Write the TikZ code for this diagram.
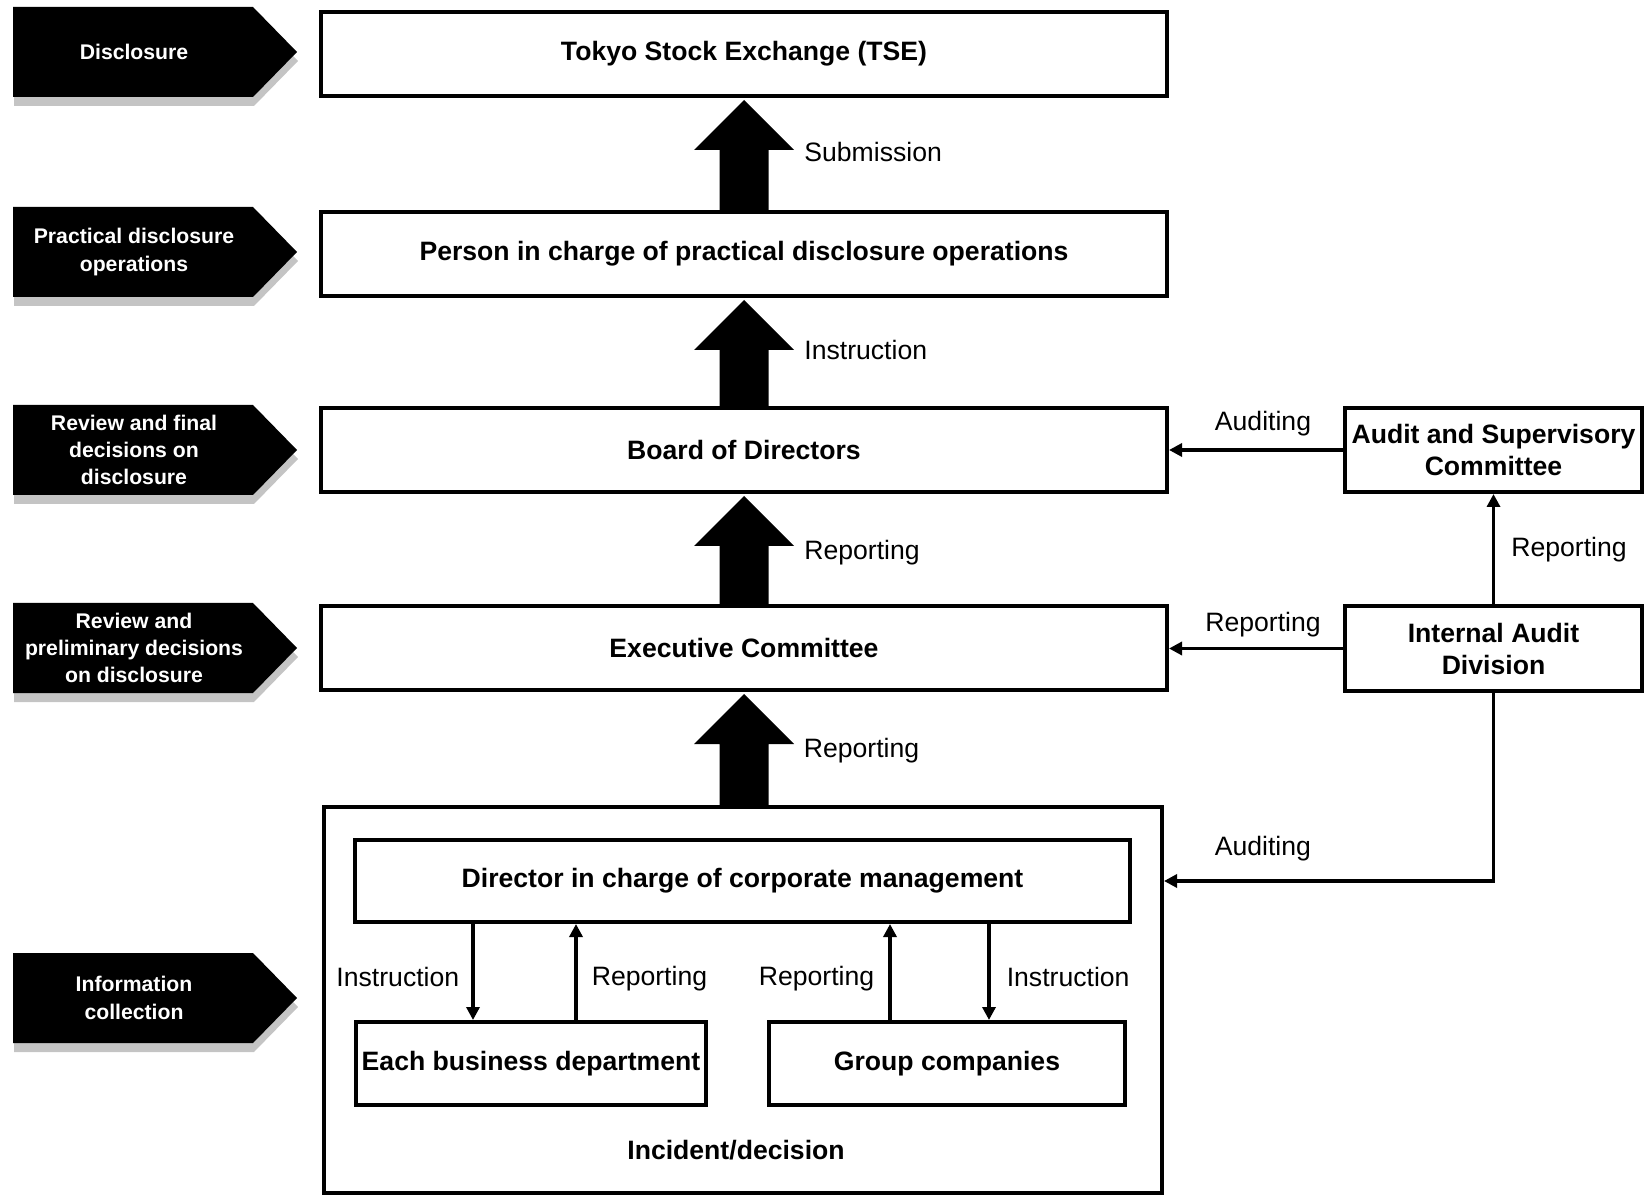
\documentclass[tikz,border=0pt]{standalone}
\usepackage{fontspec}
\setmainfont{Liberation Sans}
\usetikzlibrary{arrows.meta,calc,positioning}

\definecolor{tagshade}{RGB}{196,196,196}

\tikzset{
  box/.style={draw, line width=2pt, fill=white, align=center, inner sep=2pt,
    font=\bfseries\fontsize{13.3}{16}\selectfont},
  mainbox/.style={box, minimum width=423pt, minimum height=42pt},
  sidebox/.style={box, minimum width=148.5pt, minimum height=42pt},
  boldtxt/.style={font=\bfseries\fontsize{13.3}{16}\selectfont, inner sep=1pt},
  lbl/.style={font=\fontsize{13.3}{16}\selectfont, inner sep=1pt},
  conn/.style={line width=1.8pt, -{Triangle[length=6.5pt,width=6.5pt]}},
  tagtxt/.style={text=white, align=center, font=\bfseries\fontsize{10.6}{13.6}\selectfont},
}

% black pointer tag with grey shadow: name, centre y, text
\newcommand{\tagbox}[3]{%
  \fill[tagshade] (14,{#2-36}) -- (254,{#2-36}) -- (298,{#2+9}) -- (254,{#2+54}) -- (14,{#2+54}) -- cycle;
  \fill (13,{#2-45}) -- (253,{#2-45}) -- (297,#2) -- (253,{#2+45}) -- (13,{#2+45}) -- cycle;
  \node[tagtxt] (#1) at (134,#2) {#3};
}

% thick block arrow from lower node #1 up to upper node #2
\newcommand{\bigup}[2]{%
  \coordinate (tip) at ([yshift=-1pt]#2.south);
  \coordinate (base) at (#1.north -| tip);
  \fill ([xshift=-12.25pt]base) -- ([xshift=-12.25pt,yshift=-25pt]tip)
    -- ([xshift=-25pt,yshift=-25pt]tip) -- (tip) -- ([xshift=25pt,yshift=-25pt]tip)
    -- ([xshift=12.25pt,yshift=-25pt]tip) -- ([xshift=12.25pt]base) -- cycle;
}

\begin{document}
\begin{tikzpicture}[x=0.5pt, y=-0.5pt]
  \useasboundingbox (0,0) rectangle (1644,1197);

  % ── Left column: stage tags ──────────────────────────────────
  \tagbox{tdisc}{52}{Disclosure}
  \tagbox{tprac}{252}{Practical disclosure\\operations}
  \tagbox{tfinal}{450}{Review and final\\decisions on\\disclosure}
  \tagbox{tprelim}{648}{Review and\\preliminary decisions\\on disclosure}
  \tagbox{tinfo}{998}{Information\\collection}

  % ── Main column ──────────────────────────────────────────────
  \node[mainbox] (tse)    at (744,54)  {Tokyo Stock Exchange (TSE)};
  \node[mainbox] (person) at (744,254) {Person in charge of practical disclosure operations};
  \node[mainbox] (board)  at (744,450) {Board of Directors};
  \node[mainbox] (exec)   at (744,648) {Executive Committee};

  % ── Information collection frame ─────────────────────────────
  \node[draw, line width=2pt, minimum width=419pt, minimum height=193pt] (outer) at (743,1000) {};
  \node[box, minimum width=387.5pt, minimum height=41pt] (director) at (742.5,881)
    {Director in charge of corporate management};
  \node[box, minimum width=175pt, minimum height=41.5pt, inner sep=0pt] (dept) at (531,1063.5)
    {Each business department};
  \node[box, minimum width=178pt, minimum height=41.5pt] (group) at (947,1063.5)
    {Group companies};
  \node[boldtxt] (incident) at (736,1150) {Incident/decision};

  % ── Right column ─────────────────────────────────────────────
  \node[sidebox] (audit)    at (1493.5,450) {Audit and Supervisory\\Committee};
  \node[sidebox] (internal) at (1493.5,648.5) {Internal Audit\\Division};

  % ── Block arrows up the main column ──────────────────────────
  \bigup{person}{tse}
  \bigup{board}{person}
  \bigup{exec}{board}
  \bigup{outer}{exec}

  \node[lbl, anchor=west] (lsub)   at ([xshift=29pt,yshift=1pt]$(tse.south)!.5!(person.north)$)   {Submission};
  \node[lbl, anchor=west] (linstr) at ([xshift=29pt,yshift=1pt]$(person.south)!.5!(board.north)$) {Instruction};
  \node[lbl, anchor=west] (lrep1)  at ([xshift=29pt,yshift=-2pt]$(board.south)!.5!(exec.north)$)  {Reporting};
  \node[lbl, anchor=west] (lrep2)  at ([xshift=29pt,yshift=-1pt]$(exec.south)!.5!(outer.north)$)  {Reporting};

  % ── Audit lines ──────────────────────────────────────────────
  \draw[conn] (audit.west) -- (audit.west -| board.east)
    node[lbl, midway, above=5pt, xshift=3.5pt] (laud1) {Auditing};
  \draw[conn] (internal.west) -- (internal.west -| exec.east)
    node[lbl, midway, above=4pt, xshift=3.5pt] (lrep3) {Reporting};
  \draw[conn] (internal.north) -- (audit.south)
    node[lbl, midway, right=7pt] (lrep4) {Reporting};
  \draw[conn] (internal.south) |- (director.east -| outer.east)
    node[lbl, pos=0.85, above=8pt] (laud2) {Auditing};

  % ── Inside the frame ─────────────────────────────────────────
  \coordinate (dI) at ([xshift=-29pt]dept.north);
  \coordinate (dR) at ([xshift=22.5pt]dept.north);
  \coordinate (gR) at ([xshift=-28.5pt]group.north);
  \coordinate (gI) at ([xshift=21pt]group.north);

  \draw[conn] (dI |- director.south) -- (dI) node[lbl, midway, left=5pt, yshift=-2.5pt] {Instruction};
  \draw[conn] (dR) -- (dR |- director.south) node[lbl, midway, right=6pt, yshift=-3.5pt] {Reporting};
  \draw[conn] (gR) -- (gR |- director.south) node[lbl, midway, left=6pt, yshift=-3.5pt] {Reporting};
  \draw[conn] (gI |- director.south) -- (gI) node[lbl, midway, right=7pt, yshift=-2.5pt] {Instruction};

\end{tikzpicture}
\end{document}
